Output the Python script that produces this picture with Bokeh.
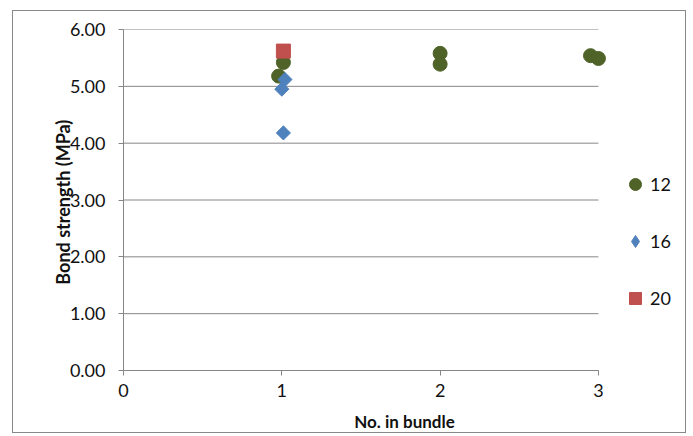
import math
from bokeh.plotting import figure
from bokeh.models import Range1d, Legend, LegendItem, FixedTicker, CustomJSTickFormatter
from bokeh.embed import file_html
from bokeh.resources import INLINE

# Data
x12 = [0.98, 1.01, 2.0, 2.0, 2.95, 3.0]
y12 = [5.18, 5.42, 5.58, 5.39, 5.54, 5.49]
x16 = [1.02, 1.0, 1.01]
y16 = [5.12, 4.95, 4.18]
x20 = [1.01]
y20 = [5.62]
series_labels = ["12", "16", "20"]
x_ticks = [0, 1, 2, 3]
y_ticks = [0, 1, 2, 3, 4, 5, 6]

FONT = "Lato"
GREY = "#868686"
GREEN, BLUE, RED = "#4F6228", "#4F81BD", "#C0504D"

p = figure(width=674, height=423, output_backend="svg", toolbar_location=None,
           x_range=Range1d(0, 3.55), y_range=Range1d(0, 6),
           min_border_left=110, min_border_top=18, min_border_right=2, min_border_bottom=63)
p.margin = (10, 0, 0, 12)
p.styles = {"border": "1.5px solid #888888"}
p.outline_line_color = None
p.background_fill_color = "white"

# axes
p.xaxis.ticker = FixedTicker(ticks=x_ticks)
p.yaxis.ticker = FixedTicker(ticks=y_ticks)
p.yaxis.formatter = CustomJSTickFormatter(code="return tick.toFixed(2);")
p.xaxis.bounds = (x_ticks[0], x_ticks[-1])
for ax in (p.xaxis[0], p.yaxis[0]):
    ax.axis_line_color = GREY
    ax.major_tick_line_color = GREY
    ax.minor_tick_line_color = None
    ax.major_tick_out = 5
    ax.major_tick_in = 0
    ax.major_label_text_font = FONT
    ax.major_label_text_font_size = "18px"
    ax.major_label_text_color = "#111111"
    ax.axis_label_text_font = FONT
    ax.axis_label_text_font_style = "bold"
    ax.axis_label_text_color = "#111111"
p.xaxis.axis_label = "No. in bundle"
p.yaxis.axis_label = "Bond strength  (MPa)"
p.xaxis.axis_label_text_font_size = "17px"
p.yaxis.axis_label_text_font_size = "18px"
p.xaxis.major_label_standoff = 8
p.yaxis.major_label_standoff = 13
p.xaxis.axis_label_standoff = 11
p.yaxis.axis_label_standoff = -7

# horizontal gridlines limited to the x-axis extent
p.xgrid.grid_line_color = None
p.ygrid.grid_line_color = None
p.segment(x0=[x_ticks[0]] * len(y_ticks), x1=[x_ticks[-1]] * len(y_ticks),
          y0=y_ticks, y1=y_ticks, line_color=GREY, line_width=1, level="underlay")

r12 = p.scatter(x12, y12, marker="circle", size=14, fill_color=GREEN, line_color=GREEN)
r16 = p.scatter(x16, y16, marker="square", size=10, angle=math.pi / 4,
                fill_color=BLUE, line_color=BLUE)
r20 = p.scatter(x20, y20, marker="square", size=14, fill_color=RED, line_color=RED)
# hidden twin of the 16 series, used only as its legend swatch (legend glyphs are not rotated)
r16_key = p.scatter(x16, y16, marker="diamond", fill_color=BLUE, line_color=BLUE, visible=False)

legend = Legend(items=[LegendItem(label=series_labels[0], renderers=[r12]),
                       LegendItem(label=series_labels[1], renderers=[r16_key]),
                       LegendItem(label=series_labels[2], renderers=[r20])],
                location=(497, 57), orientation="vertical",
                glyph_width=30, glyph_height=30, label_height=30, spacing=27,
                label_standoff=0, padding=0, margin=0,
                border_line_color=None, background_fill_alpha=0,
                inactive_fill_alpha=0,
                label_text_font=FONT, label_text_font_size="18px", label_text_color="#111111")
p.add_layout(legend, "center")

open("out.html", "w").write(file_html(p, INLINE))
